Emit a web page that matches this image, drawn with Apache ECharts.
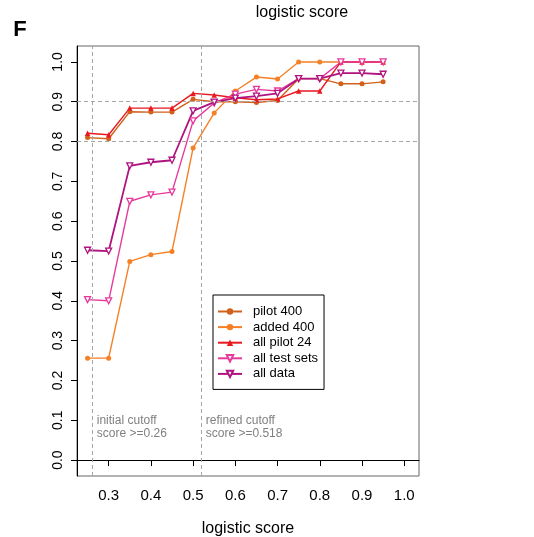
<!DOCTYPE html>
<html>
<head>
<meta charset="utf-8">
<script src="https://cdn.jsdelivr.net/npm/echarts@6/dist/echarts.min.js"></script>
<style>
html,body{margin:0;padding:0;background:#fff;}
#main{width:534px;height:537px;}
</style>
</head>
<body>
<div id="main"></div>
<script>
var xValues = [0.25,0.30,0.35,0.40,0.45,0.50,0.55,0.60,0.65,0.70,0.75,0.80,0.85,0.90,0.95];
var pilot400 = [0.810,0.807,0.875,0.874,0.874,0.906,0.900,0.900,0.898,0.903,0.958,0.958,0.945,0.945,0.950];
var added400 = [0.256,0.256,0.499,0.516,0.524,0.784,0.872,0.927,0.962,0.957,1.0,1.0,1.0,1.0,1.0];
var allPilot24 = [0.821,0.817,0.884,0.884,0.884,0.921,0.917,0.910,0.905,0.907,0.927,0.927,1.0,1.0,1.0];
var allTestSets = [0.403,0.400,0.650,0.666,0.673,0.852,0.897,0.919,0.931,0.927,0.958,0.958,1.0,1.0,1.0];
var allData = [0.527,0.525,0.739,0.748,0.753,0.877,0.899,0.909,0.914,0.921,0.958,0.958,0.972,0.972,0.969];
var xTicks = [0.3,0.4,0.5,0.6,0.7,0.8,0.9,1.0];
var yTicks = [0.0,0.1,0.2,0.3,0.4,0.5,0.6,0.7,0.8,0.9,1.0];
var cutoffs = [0.26, 0.518];
var refLines = [0.8, 0.9];
var seriesNames = ['pilot 400','added 400','all pilot 24','all test sets','all data'];

var FONT = '"Liberation Sans", Arial, sans-serif';
var chart = echarts.init(document.getElementById('main'), null, {renderer:'canvas'});

function pairs(arr){ return arr.map(function(v,i){ return [xValues[i], v]; }); }

function mkSeries(name, data, color, symbol, size, open, width, rotate){
  return {
    name: name, type: 'line', data: pairs(data),
    symbol: symbol, symbolSize: size, symbolRotate: rotate || 0,
    showAllSymbol: true,
    lineStyle: {color: color, width: width},
    itemStyle: open ? {color: '#fff', borderColor: color, borderWidth: 1.3} : {color: color, borderWidth: 0},
    emphasis: {disabled: true},
    animation: false, z: 3
  };
}

var dashStyle = {color:'#a6a6a6', type:[4,3], width:1};

var series = [
  mkSeries(seriesNames[0], pilot400, '#d2601a', 'circle', 5, false, 1.4),
  mkSeries(seriesNames[1], added400, '#f58025', 'circle', 5, false, 1.4),
  mkSeries(seriesNames[2], allPilot24, '#e8191f', 'triangle', 5.5, false, 1.4),
  mkSeries(seriesNames[3], allTestSets, '#e6399b', 'triangle', 6, true, 1.4, 180),
  mkSeries(seriesNames[4], allData, '#b0127f', 'triangle', 6, true, 1.8, 180)
];
series[0].markLine = {
  silent: true, symbol: ['none','none'], label: {show:false},
  lineStyle: dashStyle, animation: false,
  data: cutoffs.map(function(c){ return {xAxis:c}; }).concat(refLines.map(function(r){ return {yAxis:r}; }))
};

chart.setOption({
  animation: false,
  backgroundColor: '#fff',
  grid: {left:77, top:46, width:342, height:430, show:true, borderColor:'#666', borderWidth:1,
    backgroundColor:'transparent', containLabel:false, outerBoundsMode:'none'},
  xAxis: {
    type:'value', min:0.225, max:1.035,
    name:'logistic score', nameLocation:'middle', nameGap:45,
    nameTextStyle:{fontFamily:FONT, fontSize:16, color:'#000'},
    axisLine:{show:true, lineStyle:{color:'#000', width:1}},
    axisTick:{show:true, length:6, lineStyle:{color:'#000'}, customValues:xTicks},
    axisLabel:{show:true, fontFamily:FONT, fontSize:15, color:'#000', margin:12, customValues:xTicks,
      formatter:function(v){ return (+v).toFixed(1); }},
    splitLine:{show:false}
  },
  yAxis: {
    type:'value', min:-0.04, max:1.04,
    axisLine:{show:true, lineStyle:{color:'#000', width:1}},
    axisTick:{show:true, length:6, lineStyle:{color:'#000'}, customValues:yTicks},
    axisLabel:{show:true, fontFamily:FONT, fontSize:14, color:'#000', margin:12, rotate:90, customValues:yTicks,
      formatter:function(v){ return (+v).toFixed(1); }},
    splitLine:{show:false}
  },
  legend: {
    show:true, orient:'vertical', left:213, top:295,
    data: seriesNames,
    padding:[10,6,9,4], itemGap:2.6, itemWidth:24, itemHeight:8,
    borderColor:'#000', borderWidth:1, backgroundColor:'#fff',
    textStyle:{fontFamily:FONT, fontSize:13, color:'#000', padding:[0,0,0,6]},
    selectedMode:false
  },
  series: series
});

var p1 = chart.convertToPixel({gridIndex:0}, [cutoffs[0], 0.1]);
var p2 = chart.convertToPixel({gridIndex:0}, [cutoffs[1], 0.1]);
chart.setOption({
  graphic: [
    {type:'text', id:'t1', x:p1[0]+5, y:p1[1]+7, silent:true,
      style:{text:'initial cutoff\nscore >=0.26', font:'12px '+FONT, fill:'#808080', align:'left', verticalAlign:'middle', lineHeight:12.5}},
    {type:'text', id:'t2', x:p2[0]+5, y:p2[1]+7, silent:true,
      style:{text:'refined cutoff\nscore >=0.518', font:'12px '+FONT, fill:'#808080', align:'left', verticalAlign:'middle', lineHeight:12.5}},
    {type:'text', id:'title', x:302, y:13, silent:true,
      style:{text:'logistic score', font:'16px '+FONT, fill:'#000', align:'center', verticalAlign:'middle'}},
    {type:'text', id:'F', x:20, y:30, silent:true,
      style:{text:'F', font:'bold 22px '+FONT, fill:'#000', align:'center', verticalAlign:'middle'}}
  ]
});
</script>
</body>
</html>
